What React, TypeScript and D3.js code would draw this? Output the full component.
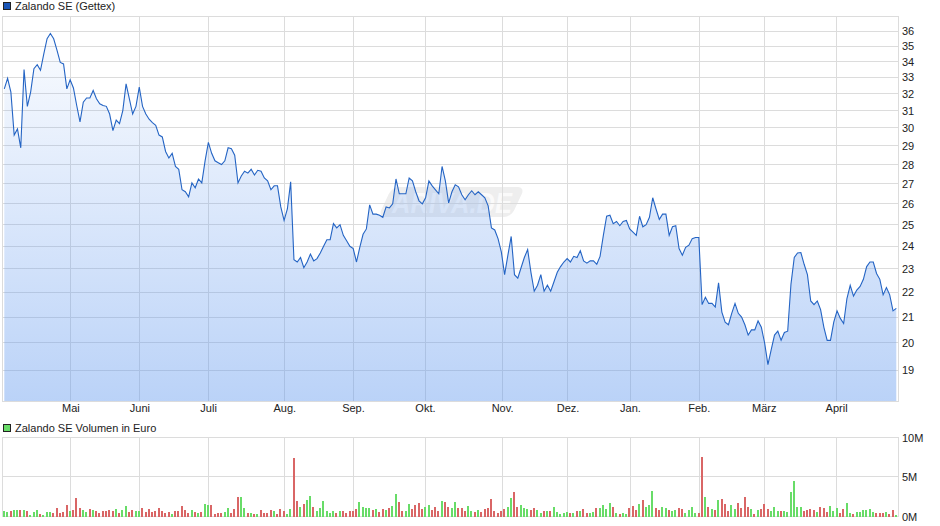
// Zalando SE (Gettex) price chart with volume panel
import React, { useRef, useEffect } from 'react';
import * as d3 from 'd3';

const prices = [
  32.3, 32.95, 32.1, 29.6, 29.95, 28.9, 33.5, 31.25, 32.1, 33.55, 33.8, 33.45, 34.5, 35.5, 35.85, 35.5, 34.75, 33.95, 33.85, 32.3,
  32.85, 32.35, 31.3, 30.35, 31.5, 31.75, 31.75, 32.2, 31.7, 31.4, 31.3, 31.25, 30.8, 29.85, 30.45, 30.25, 31.0, 32.6, 31.7, 30.8,
  31.25, 32.4, 31.25, 30.8, 30.5, 30.3, 30.15, 29.6, 29.5, 28.7, 28.35, 28.6, 27.9, 27.75, 26.7, 26.6, 26.35, 27.05, 26.8, 27.25,
  27.05, 28.2, 29.2, 28.6, 28.2, 28.1, 28.0, 28.2, 28.9, 28.85, 28.5, 27.05, 27.4, 27.65, 27.55, 27.75, 27.45, 27.7, 27.65, 27.3,
  27.15, 26.7, 26.9, 26.9, 25.85, 25.2, 25.75, 27.1,
  23.4, 23.3, 23.5, 23.05, 23.3, 23.65, 23.35, 23.45, 23.7, 24.0, 24.3, 24.3, 25.05, 24.85, 25.0, 24.5, 24.25, 24.0, 23.9, 23.3,
  23.95, 24.55, 24.8, 25.95, 25.5, 25.5, 25.45, 25.35, 25.85, 25.8, 26.0, 27.25, 26.5, 26.5, 26.5, 27.3, 27.15, 26.6, 26.15, 26.0,
  26.3, 27.15, 26.9, 26.7, 26.5, 27.9, 27.15, 26.05, 26.6, 26.95, 26.85, 26.45, 26.2, 26.45, 26.65, 26.45, 26.6, 26.45, 26.3, 25.9,
  24.85, 24.75, 24.35, 23.75, 22.75, 23.6, 24.45, 22.75, 22.6, 23.05, 23.5, 23.85, 22.85, 22.05, 22.3, 22.75, 22.05, 22.3, 22.05, 22.45,
  22.85, 23.1, 23.3, 23.45, 23.3, 23.55, 23.5, 23.8, 23.35, 23.25, 23.35, 23.35, 23.2, 23.55, 24.5, 25.4, 25.45, 25.05, 25.15,
  24.95, 25.15, 25.2, 24.8, 24.65, 24.5, 25.4, 24.9, 25.0, 25.35, 26.3, 25.75, 25.25, 25.5, 25.5, 24.5, 24.9, 24.95, 23.9, 23.6,
  23.95, 24.05, 24.35, 24.4, 24.4, 21.5, 21.8, 21.55, 21.55, 21.4, 22.4, 21.2, 20.8, 20.7, 21.15, 21.55, 21.15, 21.0, 20.7, 20.3,
  20.5, 20.5, 20.85, 20.6, 20.0, 19.2, 19.75, 20.3, 20.45, 20.1, 20.4, 20.45, 22.35, 23.5, 23.7, 23.72, 23.2, 22.75, 21.65, 21.5,
  21.65, 21.3, 20.6, 20.1, 20.1, 20.8, 21.25, 20.95, 20.75, 21.75, 22.3, 21.85, 22.1, 22.25, 22.55, 23.1, 23.3, 23.3, 22.8, 22.55,
  21.9, 22.2, 21.9, 21.25, 21.35,
];

const volumes = [
  0.7, 0.6, 0.7, 0.85, 0.85, 0.85, 0.85, 0.7, 0.2, 0.6, 0.85, 0.35, 0.2, 0.6, 0.6, 0.45, 1.1, 0.45, 0.6, 1.45,
  0.7, 0.85, 2.35, 1.1, 0.85, 0.6, 0.95, 0.85, 0.7, 0.45, 0.7, 0.7, 0.85, 0.7, 0.95, 0.45, 0.85, 1.35, 0.6, 0.85,
  0.7, 0.7, 1.1, 0.6, 0.95, 0.6, 0.7, 1.1, 0.7, 0.45, 0.6, 0.35, 0.7, 0.7, 1.35, 0.85, 0.45, 0.85, 0.6, 0.45,
  0.6, 1.6, 1.45, 1.45, 0.35, 0.45, 0.45, 0.6, 1.1, 0.45, 0.95, 2.45, 2.45, 1.1, 0.45, 0.45, 0.35, 0.35, 0.85, 0.45,
  0.45, 0.85, 0.7, 0.35, 0.95, 0.7, 0.35, 0.95, 7.35, 2.0, 1.2, 1.6, 2.1, 2.6, 1.2, 0.7, 1.1,
  2.0, 0.7, 0.45, 0.7, 0.45, 0.7, 0.7, 0.45, 0.7, 0.7, 0.95, 1.85, 1.2, 1.1, 1.1, 0.85, 0.95, 0.6, 0.95, 0.85,
  1.1, 1.35, 2.85, 1.85, 0.7, 0.7, 1.6, 0.95, 1.45, 1.7, 0.95, 1.2, 1.45, 0.85, 1.2, 0.7, 2.0, 1.85, 1.2, 1.1,
  1.85, 1.1, 1.1, 0.7, 1.35, 0.7, 0.6, 0.85, 0.6, 0.95, 1.1, 2.2, 0.7, 0.45, 0.7, 0.95, 1.2, 2.35, 3.1, 1.2,
  1.45, 1.1, 0.95, 0.85, 1.1, 0.85, 0.45, 0.7, 0.7, 0.7, 1.2, 0.6, 0.35, 0.45, 0.6, 0.45, 0.45, 0.7, 0.7, 0.95,
  0.45, 0.45, 0.6, 1.1, 1.1, 1.45, 0.95, 1.7, 1.2, 0.45, 0.35, 0.45, 0.35, 1.1,
  1.35, 0.85, 1.6, 2.1, 1.2, 1.45, 3.2, 1.1, 0.85, 1.2, 1.1, 0.85, 0.7, 0.85, 1.1, 0.95, 0.45, 0.85, 1.2, 0.45,
  0.45, 7.5, 2.45, 1.2, 0.95, 0.85, 2.1, 2.2, 1.6, 0.7, 1.45, 0.95, 1.7, 1.1, 2.45, 1.2, 0.95, 0.35, 0.85, 0.95,
  1.6, 0.95, 0.7, 1.2, 0.7, 0.7, 0.7, 0.6, 3.1, 4.5, 1.2, 1.2, 0.7, 0.85, 0.95, 0.85, 0.6, 1.2, 1.1, 0.6,
  1.35, 0.7, 1.1, 0.45, 0.95, 1.7, 0.45, 0.35, 0.6, 0.6, 0.85, 0.85, 0.95, 0.6, 0.45, 0.45, 0.45, 0.6, 0.35, 0.85, 0.2,
];

// G = green bar, R = red bar, same rows as volumes
const volumeColors = [
  'GGRGGRGRGGGRGGGRRRRR',
  'GRRRGGRGRRRRRRGRGGRR',
  'GGRRRRRRRRRGRRRRRGRG',
  'RGGRRRRGGRRRGGRGRGRR',
  'RRGRRRGGRRGRGGRGG',
  'GGGGRGRRRRRGGGGRGRRG',
  'RGGRRGGRRRRGGRRRGRRG',
  'GRRRGGRGRRRRRRRRGGRR',
  'GGGRRGGRGRGGGGGRGRGR',
  'RGGRGGGGRGRGGR',
  'RRGRGGGRRGGRGGRRGGGG',
  'RRGRGRGRRRGGRRRRGRGR',
  'RRGGGRGGGGGGRRRRGRRR',
  'GGGRRGGRGGGGGGRRRGRRG',
].join('');

const monthLabels = ['Mai', 'Juni', 'Juli', 'Aug.', 'Sep.', 'Okt.', 'Nov.', 'Dez.', 'Jan.', 'Feb.', 'März', 'April'];
const monthStarts = [20.3, 41.5, 62.6, 86, 107.1, 129.2, 152.9, 173, 192.2, 213.3, 233.3, 255.5];
const priceTicks = [19, 20, 21, 22, 23, 24, 25, 26, 27, 28, 29, 30, 31, 32, 33, 34, 35, 36];
const volumeTicks = [0, 5, 10];

const App: React.FC = () => {
  const svgRef = useRef<SVGSVGElement | null>(null);

  useEffect(() => {
    const svg = d3.select(svgRef.current);
    svg.selectAll('*').remove();
    const font = '"Liberation Sans", Arial, sans-serif';
    const grid = '#dcdcdc';

    const left = 2.5;
    const right = 898.5;
    const y = d3.scaleLog().domain([17.91, 37.02]).range([401.5, 16.5]);
    const yVol = d3.scaleLinear().domain([0, 10]).range([516.7, 437.5]);
    const x = d3.scaleLinear().domain([0, prices.length - 1]).range([4.3, 896.3]);
    const xVol = d3.scaleLinear().domain([0, volumes.length - 1]).range([4, 896]);
    const xMonth = d3.scaleLinear().domain([0, 274]).range([4.3, 896.3]);

    const defs = svg.append('defs');
    const gradient = defs.append('linearGradient')
      .attr('id', 'priceFill')
      .attr('gradientUnits', 'userSpaceOnUse')
      .attr('x1', 0).attr('x2', 0).attr('y1', 31).attr('y2', 401);
    gradient.append('stop').attr('offset', 0).attr('stop-color', '#5f97ee').attr('stop-opacity', 0.03);
    gradient.append('stop').attr('offset', 1).attr('stop-color', '#5f97ee').attr('stop-opacity', 0.43);

    // watermark
    const mark = svg.append('g');
    mark.append('rect')
      .attr('x', 385).attr('y', 187).attr('width', 133).attr('height', 30).attr('rx', 7)
      .attr('transform', 'translate(0 202) skewX(-25) translate(0 -202)')
      .attr('fill', '#eeeeee');
    mark.append('text')
      .attr('x', 392).attr('y', 213)
      .attr('textLength', 120).attr('lengthAdjust', 'spacingAndGlyphs')
      .attr('font-family', font).attr('font-size', 30).attr('font-weight', 'bold').attr('font-style', 'italic')
      .attr('fill', '#fafafa')
      .text('ARIVA.DE');

    // grid lines of both panels
    const panels = [
      { top: 16.5, bottom: 401.5, lines: priceTicks.map((d) => Math.floor(y(d)) + 0.5) },
      { top: 437.5, bottom: 516.5, lines: [476.5] },
    ];
    panels.forEach((p) => {
      const g = svg.append('g').attr('stroke', grid).attr('fill', 'none').attr('shape-rendering', 'crispEdges');
      g.append('rect').attr('x', left).attr('y', p.top).attr('width', right - left).attr('height', p.bottom - p.top);
      g.selectAll('.h').data(p.lines).enter().append('line')
        .attr('x1', left).attr('x2', right).attr('y1', (d) => d).attr('y2', (d) => d);
      g.selectAll('.v').data(monthStarts).enter().append('line')
        .attr('x1', (d) => Math.round(xMonth(d)) + 0.5).attr('x2', (d) => Math.round(xMonth(d)) + 0.5)
        .attr('y1', p.top).attr('y2', p.bottom);
    });

    const area = d3.area<number>()
      .x((_, i) => x(i))
      .y0(401)
      .y1((d) => y(d));
    svg.append('path').attr('d', area(prices)).attr('fill', 'url(#priceFill)');

    const line = d3.line<number>()
      .x((_, i) => x(i))
      .y((d) => y(d));
    svg.append('path').attr('d', line(prices))
      .attr('fill', 'none').attr('stroke', '#2464c4').attr('stroke-width', 1.1);

    svg.append('g').selectAll('rect').data(volumes).enter().append('rect')
      .attr('x', (_, i) => Math.round(xVol(i)) - 1)
      .attr('width', 2)
      .attr('y', (d) => yVol(d))
      .attr('height', (d) => 516.7 - yVol(d))
      .attr('shape-rendering', 'crispEdges')
      .attr('fill', (_, i) => (volumeColors[i] === 'R' ? '#d96666' : '#68dc68'));

    // axes
    const axisText = (g: d3.Selection<SVGGElement, unknown, null, undefined>) => {
      g.select('.domain').remove();
      g.selectAll('.tick line').remove();
      g.selectAll('text').attr('fill', '#222222').attr('font-family', font).attr('font-size', 11);
    };
    svg.append('g').attr('transform', 'translate(902,0)')
      .call(d3.axisRight(y).tickValues(priceTicks).tickFormat((d) => String(d)).tickSize(0).tickPadding(0))
      .call(axisText);
    svg.append('g').attr('transform', 'translate(902,0)')
      .call(d3.axisRight(yVol).tickValues(volumeTicks).tickFormat((d) => `${d}M`).tickSize(0).tickPadding(0))
      .call(axisText);
    svg.append('g').attr('transform', 'translate(0,401)')
      .call(d3.axisBottom(xMonth).tickValues(monthStarts).tickFormat((_, i) => monthLabels[i]).tickSize(0).tickPadding(3))
      .call(axisText);

    // legends
    const legends = [
      { y: 2.5, color: '#1a56b8', label: 'Zalando SE (Gettex)' },
      { y: 424.5, color: '#68dc68', label: 'Zalando SE Volumen in Euro' },
    ];
    legends.forEach((l) => {
      svg.append('rect').attr('x', 3.5).attr('y', l.y).attr('width', 7).attr('height', 7)
        .attr('fill', l.color).attr('stroke', '#222222').attr('shape-rendering', 'crispEdges');
      svg.append('text').attr('x', 15).attr('y', l.y + 7.5)
        .attr('font-family', font).attr('font-size', 11).attr('fill', '#222222').text(l.label);
    });
  }, []);

  return (
    <svg ref={svgRef} width={940} height={526} style={{ position: 'absolute', left: 0, top: 0, background: '#fff' }}></svg>
  );
};

export default App;
